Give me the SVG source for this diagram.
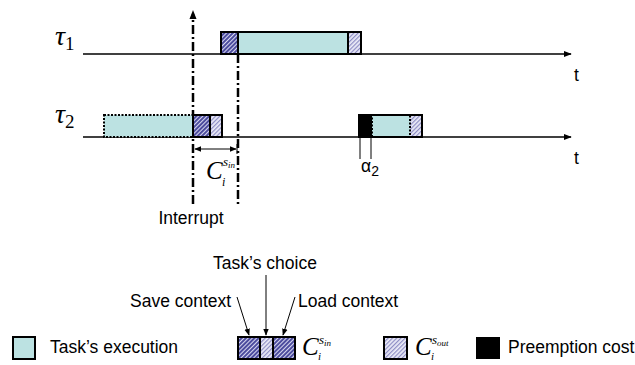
<svg xmlns="http://www.w3.org/2000/svg" width="635" height="365" viewBox="0 0 635 365">
<defs>
<style>
.ax{stroke:#000;stroke-width:1.5;fill:none}
.dd{stroke:#000;stroke-width:2.5;fill:none;stroke-dasharray:9,3,2,3}
.box{stroke:#000;stroke-width:2;fill:none}
.dot{stroke:#000;stroke-width:2;fill:none;stroke-dasharray:2,1.5}
.cy{fill:#bce2e2}
.dk{fill:url(#dark)}
.lt{fill:url(#light)}
.lbl{font-family:"Liberation Sans",Arial,sans-serif;font-size:17.5px;fill:#000}
.mth{font-family:"Liberation Serif","Times New Roman",serif;font-style:italic;fill:#000}
.thin{stroke:#000;stroke-width:1;fill:none}
</style>
<pattern id="dark" width="3" height="3" patternUnits="userSpaceOnUse" patternTransform="rotate(45)">
<rect width="3" height="3" fill="#4c4c9e"/>
<rect width="1" height="3" fill="#d8d8f0"/>
</pattern>
<pattern id="light" width="3" height="3" patternUnits="userSpaceOnUse" patternTransform="rotate(45)">
<rect width="3" height="3" fill="#ececf8"/>
<rect width="1.2" height="3" fill="#8c8cc4"/>
</pattern>
<marker id="ah" viewBox="0 0 10 10" refX="9" refY="5" markerWidth="8" markerHeight="8" markerUnits="userSpaceOnUse" orient="auto">
<path d="M0,1 L10,5 L0,9 Z" fill="#000"/>
</marker>
<marker id="ahs" viewBox="0 0 10 10" refX="9" refY="5" markerWidth="7" markerHeight="7" markerUnits="userSpaceOnUse" orient="auto-start-reverse">
<path d="M0,1 L10,5 L0,9 Z" fill="#000"/>
</marker>
</defs>
<rect width="635" height="365" fill="#fff"/>

<g id="connectors">
<line class="ax" x1="83" y1="54" x2="571" y2="54" marker-end="url(#ah)"/>
<line class="ax" x1="83" y1="137" x2="571" y2="137" marker-end="url(#ah)"/>
<line class="dd" x1="193" y1="204" x2="193" y2="14"/>
<path d="M189.5,19 L193,10 L196.5,19 Z" fill="#000"/>
<line class="dd" x1="238" y1="54" x2="238" y2="204"/>
<line class="thin" x1="195" y1="149" x2="236" y2="149" marker-start="url(#ahs)" marker-end="url(#ahs)"/>
<line class="thin" x1="237" y1="144" x2="237" y2="154" stroke-width="1.5"/>
<line class="thin" x1="360" y1="137" x2="360" y2="159"/>
<line class="thin" x1="371" y1="137" x2="371" y2="159"/>
<line class="thin" x1="237" y1="297" x2="249" y2="335" marker-end="url(#ahs)"/>
<line class="thin" x1="266" y1="275" x2="266" y2="335" marker-end="url(#ahs)"/>
<line class="thin" x1="295" y1="297" x2="283" y2="335" marker-end="url(#ahs)"/>
</g>

<g id="tau1">
<text class="mth" x="55" y="45" font-size="28">τ<tspan font-style="normal" font-size="19" dy="5">1</tspan></text>
<rect class="dk" x="221" y="32" width="17" height="22"/>
<rect class="cy" x="238" y="32" width="110" height="22"/>
<rect class="lt" x="348" y="32" width="13" height="22"/>
<line class="box" x1="238" y1="32" x2="238" y2="54"/>
<line class="box" x1="348" y1="32" x2="348" y2="54"/>
<rect class="box" x="221" y="32" width="140" height="22"/>
<text class="lbl" x="574" y="81">t</text>
</g>

<g id="tau2">
<text class="mth" x="55" y="123" font-size="28">τ<tspan font-style="normal" font-size="19" dy="5">2</tspan></text>
<rect class="cy" x="104" y="115" width="89" height="22"/>
<rect class="dot" x="104" y="115" width="89" height="22"/>
<rect class="dk" x="193" y="115" width="17" height="22"/>
<rect class="lt" x="210" y="115" width="12" height="22"/>
<line class="box" x1="210" y1="115" x2="210" y2="137"/>
<rect class="box" x="193" y="115" width="29" height="22"/>
<rect x="359" y="115" width="13" height="22" fill="#000"/>
<rect class="cy" x="372" y="115" width="38" height="22"/>
<rect class="lt" x="410" y="115" width="12" height="22"/>
<rect class="dot" x="372" y="115" width="38" height="22"/>
<rect class="box" x="359" y="115" width="63" height="22"/>
<text class="lbl" x="574" y="164">t</text>
<text class="lbl" x="361" y="172">α<tspan font-size="14" dy="4">2</tspan></text>
</g>

<g id="cin-label">
<text class="mth" x="206" y="179" font-size="25">C</text>
<text class="mth" x="223" y="166" font-size="13">s<tspan font-size="9" dy="2">in</tspan></text>
<text class="mth" x="222" y="186" font-size="12">i</text>
</g>

<g id="interrupt">
<text class="lbl" x="191" y="224" text-anchor="middle">Interrupt</text>
</g>

<g id="legend-exec">
<rect class="cy" x="13" y="337" width="22" height="22" stroke="#000" stroke-width="2"/>
<text class="lbl" x="50" y="353">Task’s execution</text>
</g>

<g id="legend-cin">
<text class="lbl" x="265" y="269" text-anchor="middle">Task’s choice</text>
<text class="lbl" x="130" y="307">Save context</text>
<text class="lbl" x="298" y="307">Load context</text>
<rect class="dk" x="238" y="337" width="22" height="22"/>
<rect class="lt" x="260" y="337" width="13" height="22"/>
<rect class="dk" x="273" y="337" width="22" height="22"/>
<line class="box" x1="260" y1="337" x2="260" y2="359"/>
<line class="box" x1="273" y1="337" x2="273" y2="359"/>
<rect class="box" x="238" y="337" width="57" height="22"/>
<text class="mth" x="302" y="355" font-size="25">C</text>
<text class="mth" x="319" y="344" font-size="13">s<tspan font-size="9" dy="2">in</tspan></text>
<text class="mth" x="318" y="360" font-size="11">i</text>
</g>

<g id="legend-cout">
<rect class="lt" x="384" y="337" width="23" height="22"/>
<rect class="box" x="384" y="337" width="23" height="22"/>
<text class="mth" x="415" y="355" font-size="25">C</text>
<text class="mth" x="432" y="344" font-size="13">s<tspan font-size="9" dy="2">out</tspan></text>
<text class="mth" x="431" y="360" font-size="11">i</text>
</g>

<g id="legend-preempt">
<rect x="476" y="337" width="24" height="22" fill="#000"/>
<text class="lbl" x="508" y="353">Preemption cost</text>
</g>
</svg>
